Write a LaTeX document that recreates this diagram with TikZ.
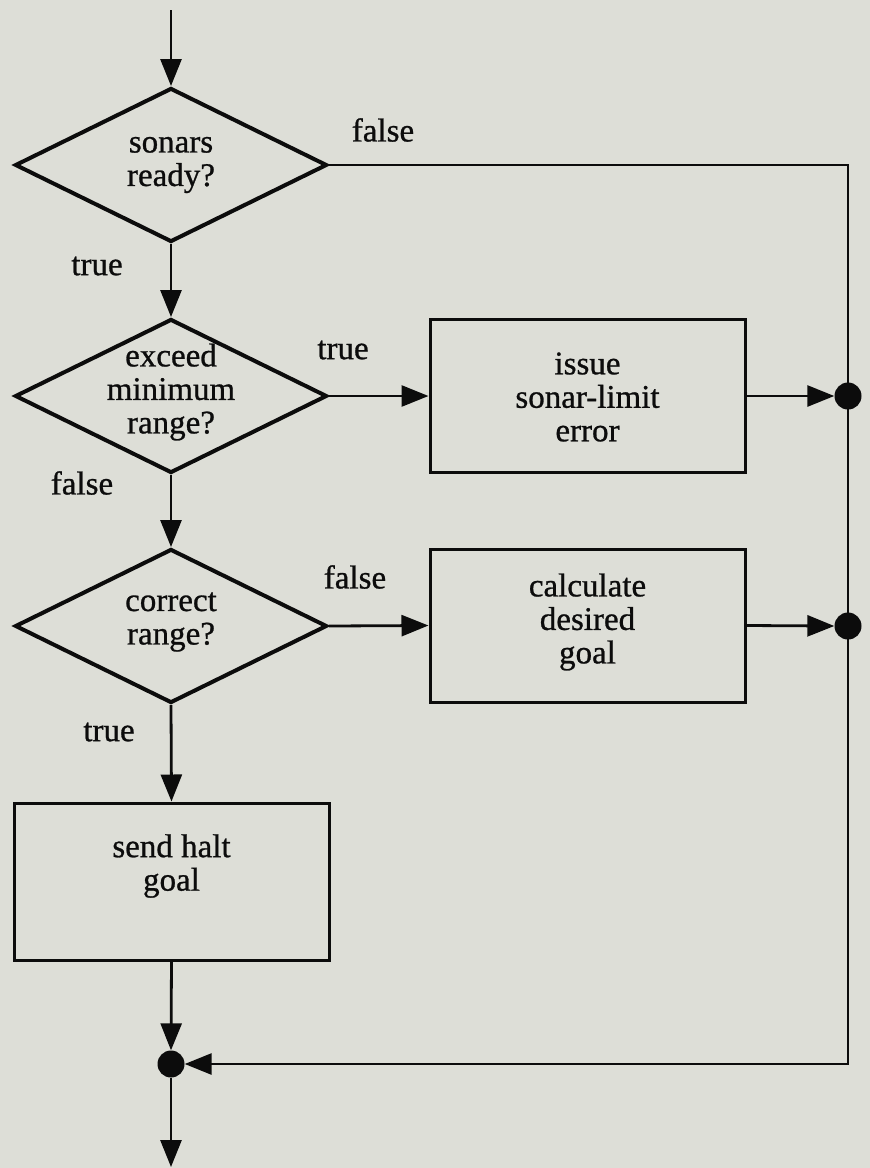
\documentclass[tikz,border=0pt]{standalone}
\usepackage{fontspec}
\setmainfont{Liberation Serif}[FakeBold=0.8]
\usetikzlibrary{shapes.geometric,arrows.meta}
\definecolor{paper}{RGB}{221,222,215}
\definecolor{ink}{RGB}{12,12,12}
\begin{document}
\begin{tikzpicture}[x=1pt,y=-1pt,
  decision/.style={diamond, draw=ink, line width=4pt, minimum width=312pt,
    minimum height=154pt, inner sep=0pt},
  process/.style={rectangle, draw=ink, line width=3pt, minimum width=315pt,
    minimum height=153pt, inner sep=0pt},
  txt/.style={align=center, text=ink, font=\fontsize{33}{33.5}\selectfont, inner sep=0pt},
  joint/.style={circle, fill=ink, minimum size=27pt, inner sep=0pt},
  flow/.style={draw=ink, line width=2.8pt, -{Triangle[length=27pt,width=21pt]}},
  plain/.style={draw=ink, line width=2.8pt}
]
\fill[paper] (0,0) rectangle (870,1168);
\useasboundingbox (0,0) rectangle (870,1168);

% decisions
\node[decision] (sonars) at (171,165) {};
\node[txt] (sonarsT) at (171,165) {sonars\\ready?};
\node[decision] (exceed) at (171,396) {};
\node[txt] (exceedT) at (171,392) {exceed\\minimum\\range?};
\node[decision] (correct) at (171,626) {};
\node[txt] (correctT) at (171,622) {correct\\range?};

% processes
\node[process] (issue) at (587.5,396) {};
\node[txt] (issueT) at (587.5,397) {issue\\sonar-limit\\error};
\node[process] (calc) at (587.5,625.5) {};
\node[txt] (calcT) at (587.5,622) {calculate\\desired\\goal};
\node[process, minimum height=157pt] (halt) at (171.5,881.5) {};
\node[txt] (haltT) at (171.5,866) {send halt\\goal};

% junction points
\node[joint] (jA) at (848,396) {};
\node[joint] (jB) at (848,626) {};
\node[joint] (jC) at (171,1064) {};

\coordinate (entry) at (171,10);
\coordinate (exit) at (171,1167);
\coordinate (ne) at (848,165);
\coordinate (se) at (848,1064);

% connectors
\draw[flow] (entry) -- (sonars.north);
\draw[flow] (sonars.south) -- (exceed.north);
\draw[flow] (exceed.south) -- (correct.north);
\draw[flow] (correct.south) -- (halt.north);
\draw[flow] (exceed.east) -- (issue.west);
\draw[flow] (correct.east) -- (calc.west);
\draw[flow] (issue.east) -- (jA.west);
\draw[flow] (calc.east) -- (jB.west);
\draw[flow] (halt.south) -- (jC.north);
\draw[flow] (sonars.east) -- (ne) -- (se) -- (jC.east);
\draw[flow] (jC.south) -- (exit);

% branch labels
\node[txt] (l1) at (383,130) {false};
\node[txt] (l2) at (97,266) {true};
\node[txt] (l3) at (343,350) {true};
\node[txt] (l4) at (82,483) {false};
\node[txt] (l5) at (355,577) {false};
\node[txt] (l6) at (109,732) {true};
\end{tikzpicture}
\end{document}
